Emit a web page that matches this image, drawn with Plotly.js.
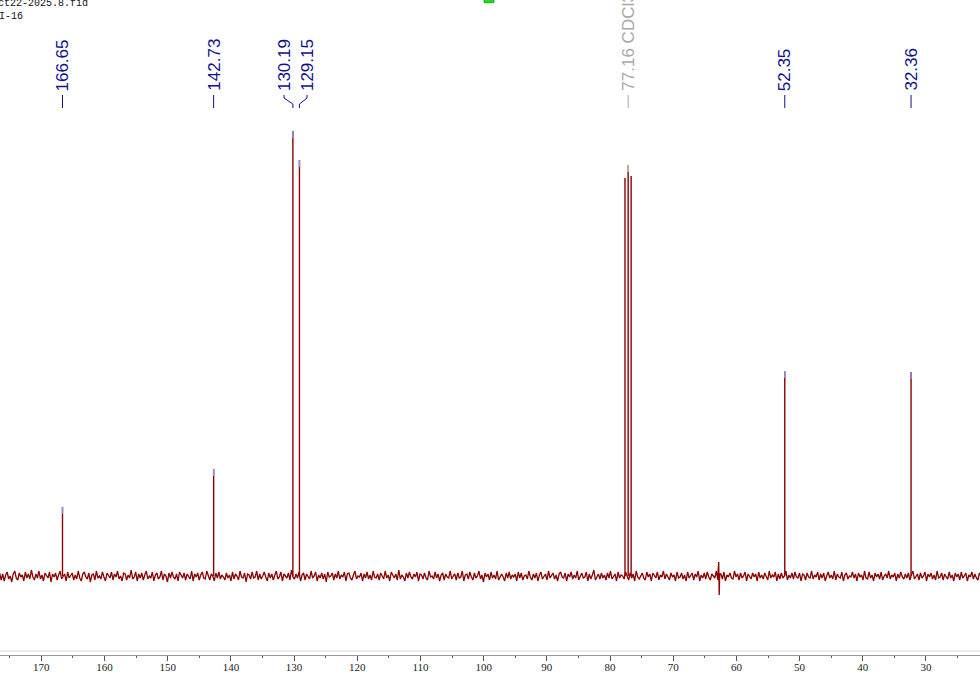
<!DOCTYPE html>
<html>
<head>
<meta charset="utf-8">
<script src="https://cdn.plot.ly/plotly-3.0.1.min.js"></script>
<style>
  html, body { margin: 0; padding: 0; background: #fff; }
  #chart { width: 980px; height: 674px; }
</style>
</head>
<body>
<div id="chart"></div>
<script>
// 13C NMR spectrum (CDCl3) — ppm axis runs right to left

// ── Data ────────────────────────────────────────────────────────────────────
const peakPpm    = [166.65, 142.73, 130.19, 129.15, 77.63, 77.13, 76.66, 52.35, 32.36];
const peakHeight = [69, 107, 445, 416, 398, 411, 400, 205, 204];

const labelPpm   = [166.65, 142.73, 130.19, 129.15, 77.13, 52.35, 32.36];
const labelText  = ['166.65', '142.73', '130.19', '129.15', '77.16 CDCl3', '52.35', '32.36'];
const labelIsSolvent = [false, false, false, false, true, false, false];

const tickValues = [170, 160, 150, 140, 130, 120, 110, 100, 90, 80, 70, 60, 50, 40, 30];
const tickLabels = ['170', '160', '150', '140', '130', '120', '110', '100', '90', '80', '70', '60', '50', '40', '30'];
const minorTicks = [175, 165, 155, 145, 135, 125, 115, 105, 95, 85, 75, 65, 55, 45, 35, 25];

// baseline noise, read across the spectrum from 176.6 to 21.3 ppm
const noiseStart = 176.6;
const noiseEnd   = 21.3;
const noise = [
  3,-4,2,-5,1,4,-3,0,-6,2,5,-2,-4,3,-1,1,-5,4,-2,2,-3,6,-1,-4,2,
  -2,5,-3,1,-5,3,0,-2,4,-6,2,-1,3,-4,1,5,-3,-1,2,-5,4,-2,0,3,-4,
  1,-3,5,-2,-5,2,4,-1,-3,3,-6,1,2,-4,5,-2,0,-3,4,-1,-5,3,1,-2,4,
  -4,2,-1,5,-3,0,-5,3,2,-4,1,-2,6,-3,-1,4,-5,2,-2,3,-4,1,5,-3,0,
  -2,4,-5,1,3,-3,-1,5,-4,2,0,-6,3,-2,4,-1,-3,2,-5,4,1,-2,3,-4,2,
  0,-3,5,-5,2,-1,3,-4,1,4,-2,-3,5,-1,-4,2,0,-5,3,-2,4,-3,1,-1,-4,
  3,-2,1,-5,4,-3,2,0,-4,5,-1,-2,3,-6,2,1,-3,4,-2,-1,5,-4,2,-3,0,
  4,-1,-5,3,-2,2,-4,1,5,-3,-1,4,-5,2,0,-2,3,-4,6,-1,-3,2,-2,4,-5,
  1,3,-4,2,-1,-3,5,-2,0,4,-5,1,-2,3,-3,2,-6,4,-1,0,3,-4,2,-2,5,
  -3,1,-1,4,-5,2,3,-2,-4,1,5,-3,0,-1,3,-5,2,-2,4,-3,1,-4,5,-1,-2,
  2,-4,3,-1,-3,5,-2,1,-5,4,0,-2,2,-4,6,-3,1,-1,-5,3,-2,4,-1,-3,2,
  -1,4,-5,2,1,-3,3,-2,-4,5,-1,0,-3,4,-2,2,-5,1,3,-4,2,-1,-2,5,-3,
  0,2,-4,3,-2,-1,5,-5,1,2,-3,4,-1,-4,3,-2,0,5,-3,1,-6,3,-1,2,-4,
  4,-2,1,-3,5,-4,0,2,-1,-5,3,-2,4,-3,1,-1,2,-5,4,-2,3,-4,0,1,-3,
  5,-1,-4,2,-2,3,-5,1,4,-3,-1,2,-4,5,-2,0,3,-3,1,-5,2,4,-1,-2,3,
  -5,2,-1,4,-3,1,-2,5,-4,0,3,-2,-1,4,-5,2,-3,1,6,-4,-1,2,-3,3,-2,
  1,-4,3,-2,5,-3,-1,2,-5,4,-2,1,0,-3,4,-1,-4,3,-2,2,-5,5,-1,-3,1,
  3,-2,-4,4,-1,2,-5,3,0,-2,4,-4,1,-1,5,-3,2,-2,-4,3,-1,1,-5,4,-2,
  -1,3,-3,1,-5,4,-2,0,3,-4,2,-1,5,-5,1,-2,3,-3,4,-1,-4,2,0,-2,5,
  -4,1,2,-3,4,-5,1,-1,3,-2,-3,5,-1,2,-4,3,-2,0,4,-5,2,-1,-3,3,-1,
  2,-5,4,-2,1,-3,3,-1,-4,5,-2,1,-1,4,-5,2,-3,3,-2,0,5,-4,1,-2,3,
  -3,4,-1,-2,3,-5,2,1,-4,3,-1,-2,5,-3,1,-1,4,-4,2,-2,3,-5,0,4,-2,
  1,-3,5,-4,2,-1,-2,4,-5,1,3,-3,0,-1,4,-2,2,-5,3,-1,1,-4,5,-2,-3,
  4,-2,1,-5,3,-1,2,-3,4,-4,0,2,-2,5,-3,1,-1,3,-5,2,-2,4,-1,-3,2,
  -2,3,-4,1,5,-3,-1,2,-4,3,-2,0,4,-5,2,-1,3,-3,1,-4,5,-2,-1,3,-4,
  2,-1,-3,4,-2,1,-5,3,-1,2,-4,4,-2,0,3,-5,1,-1,4,-3,2,-2,-4,3,0
];

// phase glitch near 62.8 ppm
const glitchPpm = [62.88, 62.80, 62.72, 62.64];
const glitchInt = [6, 14, -19, 2];

// ── Build traces ────────────────────────────────────────────────────────────
const RED = '#8b0000';
const NAVY = '#10108c';
const GREY = '#a8a8a8';
const TIP = 7;  // peak-pick marker length at top of each peak

const baseline = noise.map((v, i) => ({
  x: noiseStart - i * (noiseStart - noiseEnd) / (noise.length - 1),
  y: v,
}));
glitchPpm.forEach((p, i) => baseline.push({ x: p, y: glitchInt[i] }));
baseline.sort((a, b) => b.x - a.x);

const noiseTrace = {
  x: baseline.map(d => d.x),
  y: baseline.map(d => d.y),
  type: 'scatter', mode: 'lines',
  line: { color: RED, width: 1.3 },
  hoverinfo: 'skip',
};

const px = [], py = [];
peakPpm.forEach((p, i) => { px.push(p, p, null); py.push(0, peakHeight[i], null); });
const peakTrace = {
  x: px, y: py, type: 'scatter', mode: 'lines',
  line: { color: RED, width: 1.4 }, hoverinfo: 'skip',
};

// coloured tips on picked peaks
const tipX = [], tipY = [], tipGX = [], tipGY = [];
labelPpm.forEach((p, i) => {
  const h = peakHeight[peakPpm.indexOf(p)];
  if (labelIsSolvent[i]) { tipGX.push(p, p, null); tipGY.push(h - TIP, h, null); }
  else { tipX.push(p, p, null); tipY.push(h - TIP, h, null); }
});
const tipTrace = {
  x: tipX, y: tipY, type: 'scatter', mode: 'lines',
  line: { color: '#8c8ce0', width: 1.4 }, hoverinfo: 'skip',
};
const tipGreyTrace = {
  x: tipGX, y: tipGY, type: 'scatter', mode: 'lines',
  line: { color: '#c8c8c8', width: 1.4 }, hoverinfo: 'skip',
};

// ── Labels and connectors ───────────────────────────────────────────────────
const LABEL_BOTTOM = 483;
const CONN_TOP = 481, CONN_BOTTOM = 468;
// labels of the close pair are spread apart
const labelShift = { '130.19': 1.4, '129.15': -1.2 };

const annotations = labelPpm.map((p, i) => ({
  x: p + (labelShift[labelText[i]] || 0),
  y: LABEL_BOTTOM,
  xref: 'x', yref: 'y',
  text: labelText[i],
  textangle: -90,
  showarrow: false,
  xanchor: 'center', yanchor: 'bottom',
  font: { family: 'Liberation Sans, Arial, sans-serif', size: 17, color: labelIsSolvent[i] ? GREY : NAVY },
}));

annotations.push(
  { x: -0.004, y: 1.006, xref: 'paper', yref: 'paper', xanchor: 'left', yanchor: 'top', showarrow: false,
    text: 'ct22-2025.8.fid', font: { family: 'Liberation Mono, monospace', size: 10, color: '#111' } },
  { x: -0.003, y: 0.987, xref: 'paper', yref: 'paper', xanchor: 'left', yanchor: 'top', showarrow: false,
    text: 'I-16', font: { family: 'Liberation Mono, monospace', size: 10, color: '#111' } }
);

const shapes = labelPpm.map((p, i) => {
  const lx = p + (labelShift[labelText[i]] || 0);
  const col = labelIsSolvent[i] ? GREY : NAVY;
  if (lx === p) {
    return { type: 'line', xref: 'x', yref: 'y', x0: p, x1: p, y0: CONN_BOTTOM, y1: CONN_TOP,
             line: { color: col, width: 1 } };
  }
  return { type: 'path', xref: 'x', yref: 'y',
           path: `M ${lx} ${CONN_TOP} L ${lx} ${CONN_TOP - 3} L ${p} ${CONN_BOTTOM + 4} L ${p} ${CONN_BOTTOM}`,
           line: { color: col, width: 1 } };
});
// faint rule above the axis
shapes.push({ type: 'line', xref: 'paper', yref: 'paper', x0: 0, x1: 1, y0: 0.006, y1: 0.006,
              line: { color: '#d8d8d8', width: 1 } });
// small green marker at top
shapes.push({ type: 'rect', xref: 'paper', yref: 'paper', x0: 0.494, x1: 0.504, y0: 0.996, y1: 1.01,
              fillcolor: '#22dd22', line: { color: '#11aa11', width: 1 } });

// ── Layout ──────────────────────────────────────────────────────────────────
const layout = {
  width: 980, height: 674,
  paper_bgcolor: '#fff', plot_bgcolor: '#fff',
  margin: { t: 0, r: 0, b: 19, l: 0, pad: 0 },
  showlegend: false,
  xaxis: {
    range: [176.54, 21.45],
    showgrid: false, zeroline: false,
    showline: true, linecolor: '#9a9a9a', linewidth: 1,
    ticks: 'outside', ticklen: 5, tickwidth: 1, tickcolor: '#555',
    ticklabelstandoff: -3,
    tickmode: 'array', tickvals: tickValues, ticktext: tickLabels,
    tickfont: { family: 'Liberation Serif, Times New Roman, serif', size: 11, color: '#222' },
    minor: { tickmode: 'array', tickvals: minorTicks, ticks: 'outside', ticklen: 2, tickcolor: '#555', showgrid: false },
    fixedrange: true,
  },
  yaxis: {
    range: [-79, 576],
    visible: false, showgrid: false, zeroline: false, fixedrange: true,
  },
  annotations, shapes,
};

Plotly.newPlot('chart', [noiseTrace, peakTrace, tipTrace, tipGreyTrace], layout,
  { displayModeBar: false, staticPlot: true });
</script>
</body>
</html>
